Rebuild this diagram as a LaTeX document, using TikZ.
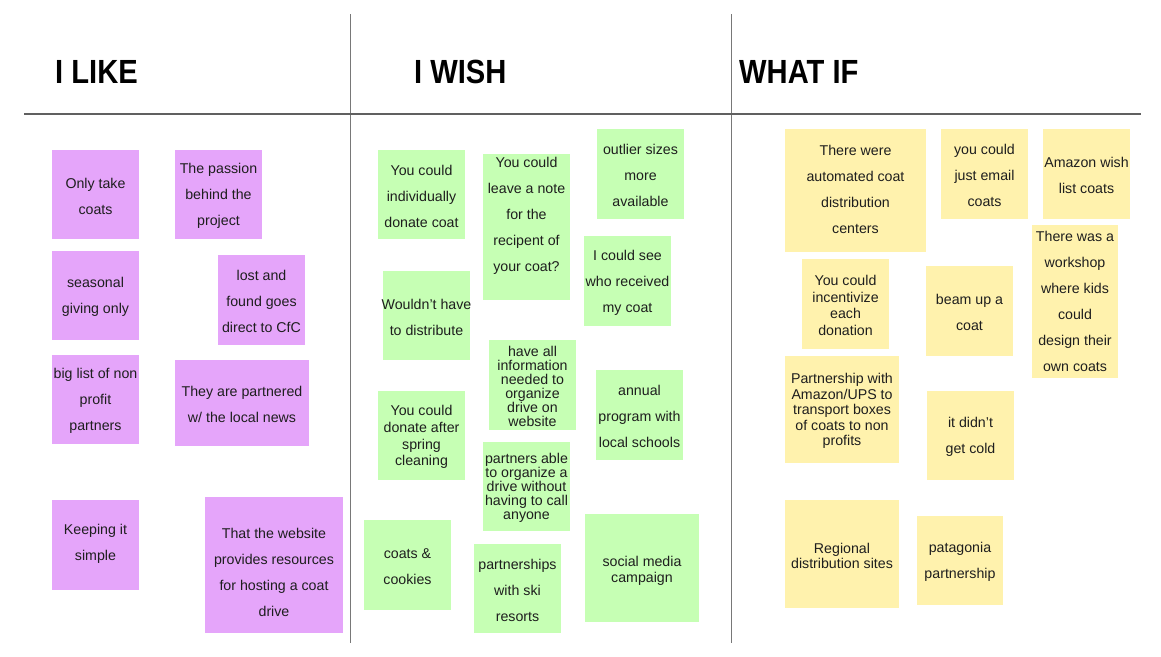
\documentclass[tikz,border=0pt]{standalone}
\usepackage{fontspec}
\setmainfont{Liberation Sans}
\newfontfamily\headfont[FakeStretch=0.87]{Liberation Sans}
\definecolor{purp}{RGB}{229,165,250}
\definecolor{grn}{RGB}{198,255,180}
\definecolor{yel}{RGB}{255,242,173}
\definecolor{ink}{RGB}{30,30,30}
\definecolor{rule}{RGB}{120,120,120}
\tikzset{
  note/.style={fill=#1, draw=none, inner sep=0pt, outer sep=0pt},
  txt/.style={align=center, inner sep=0pt, text=ink, yshift=-1.5pt, font=\fontsize{14.2}{26}\selectfont},
  tight/.style={font=\fontsize{14.2}{#1}\selectfont},
  head/.style={anchor=west, inner sep=0pt, text=black, font=\headfont\bfseries\fontsize{33.5}{36}\selectfont},
  divider/.style={draw=rule, line width=1pt}
}
\begin{document}
\begin{tikzpicture}[x=1pt,y=-1pt]
\useasboundingbox[fill=white] (0,0) rectangle (1161,656);
% dividers
\draw[divider] (350,14) -- (350,643);
\draw[divider] (731,14) -- (731,643);
\draw[divider, line width=1.3pt, draw=rule!80!black] (24,114) -- (1141,114);
% headers
\node[head] (hLike) at (55,72) {I LIKE};
\node[head] (hWish) at (414,72) {I WISH};
\node[head] (hWhat) at (739,72) {WHAT IF};
% ---------- I LIKE ----------
\node[note=purp, minimum width=87, minimum height=89] (L1) at (95.5,194.5) {};
\node[txt] at (L1) {Only take\\coats};
\node[note=purp, minimum width=87, minimum height=89] (L2) at (218.5,194.5) {};
\node[txt] at (L2) {The passion\\behind the\\project};
\node[note=purp, minimum width=87, minimum height=89] (L3) at (95.5,295.5) {};
\node[txt] at (L3) {seasonal\\giving only};
\node[note=purp, minimum width=87, minimum height=90] (L4) at (261.5,300) {};
\node[txt] at (L4) {lost and\\found goes\\direct to CfC};
\node[note=purp, minimum width=87, minimum height=89] (L5) at (95.5,399.5) {};
\node[txt] at (L5) {big list of non\\profit\\partners};
\node[note=purp, minimum width=134, minimum height=86] (L6) at (242,403) {};
\node[txt] at (L6) {They are partnered\\w/ the local news};
\node[note=purp, minimum width=87, minimum height=90] (L7) at (95.5,545) {};
\node[txt, yshift=3pt] at (L7) {Keeping it\\simple};
\node[note=purp, minimum width=138, minimum height=136] (L8) at (274,565) {};
\node[txt, yshift=-5.5pt] at (L8) {That the website\\provides resources\\for hosting a coat\\drive};
% ---------- I WISH ----------
\node[note=grn, minimum width=87, minimum height=89] (M1) at (421.5,194.5) {};
\node[txt] at (M1) {You could\\individually\\donate coat};
\node[note=grn, minimum width=87, minimum height=146] (M2) at (526.5,227) {};
\node[txt, yshift=12.5pt] at (M2) {You could\\leave a note\\for the\\recipent of\\your coat?};
\node[note=grn, minimum width=87, minimum height=90] (M3) at (640.5,174) {};
\node[txt] at (M3) {outlier sizes\\more\\available};
\node[note=grn, minimum width=87, minimum height=90] (M4) at (627.5,281) {};
\node[txt] at (M4) {I could see\\who received\\my coat};
\node[note=grn, minimum width=87, minimum height=89] (M5) at (426.5,315.5) {};
\node[txt] at (M5) {Wouldn’t have\\to distribute};
\node[note=grn, minimum width=87, minimum height=90] (M6) at (532.5,385) {};
\node[txt, tight=14] at (M6) {have all\\information\\needed to\\organize\\drive on\\website};
\node[note=grn, minimum width=87, minimum height=90] (M7) at (639.5,415) {};
\node[txt] at (M7) {annual\\program with\\local schools};
\node[note=grn, minimum width=87, minimum height=89] (M8) at (421.5,435.5) {};
\node[txt, tight=16.7] at (M8) {You could\\donate after\\spring\\cleaning};
\node[note=grn, minimum width=87, minimum height=89] (M9) at (526.5,486.5) {};
\node[txt, tight=14] at (M9) {partners able\\to organize a\\drive without\\having to call\\anyone};
\node[note=grn, minimum width=87, minimum height=90] (M10) at (407.5,565) {};
\node[txt] at (M10) {coats \&\\cookies};
\node[note=grn, minimum width=87, minimum height=89] (M11) at (517.5,588.5) {};
\node[txt] at (M11) {partnerships\\with ski\\resorts};
\node[note=grn, minimum width=114, minimum height=108] (M12) at (642,568) {};
\node[txt, tight=16, yshift=-1pt] at (M12) {social media\\campaign};
% ---------- WHAT IF ----------
\node[note=yel, minimum width=141, minimum height=123] (R1) at (855.5,190.5) {};
\node[txt, yshift=3pt] at (R1) {There were\\automated coat\\distribution\\centers};
\node[note=yel, minimum width=87, minimum height=90] (R2) at (984.5,174) {};
\node[txt] at (R2) {you could\\just email\\coats};
\node[note=yel, minimum width=87, minimum height=90] (R3) at (1086.5,174) {};
\node[txt] at (R3) {Amazon wish\\list coats};
\node[note=yel, minimum width=86, minimum height=153] (R4) at (1075,301.5) {};
\node[txt, yshift=1.5pt] at (R4) {There was a\\workshop\\where kids\\could\\design their\\own coats};
\node[note=yel, minimum width=87, minimum height=90] (R5) at (845.5,304) {};
\node[txt, tight=16.8] at (R5) {You could\\incentivize\\each\\donation};
\node[note=yel, minimum width=87, minimum height=90] (R6) at (969.5,311) {};
\node[txt] at (R6) {beam up a\\coat};
\node[note=yel, minimum width=114, minimum height=107] (R7) at (842,409.5) {};
\node[txt, tight=15.5] at (R7) {Partnership with\\Amazon/UPS to\\transport boxes\\of coats to non\\profits};
\node[note=yel, minimum width=87, minimum height=89] (R8) at (970.5,435.5) {};
\node[txt] at (R8) {it didn’t\\get cold};
\node[note=yel, minimum width=114, minimum height=108] (R9) at (842,554) {};
\node[txt, tight=15] at (R9) {Regional\\distribution sites};
\node[note=yel, minimum width=86, minimum height=89] (R10) at (960,560.5) {};
\node[txt] at (R10) {patagonia\\partnership};
\end{tikzpicture}
\end{document}
